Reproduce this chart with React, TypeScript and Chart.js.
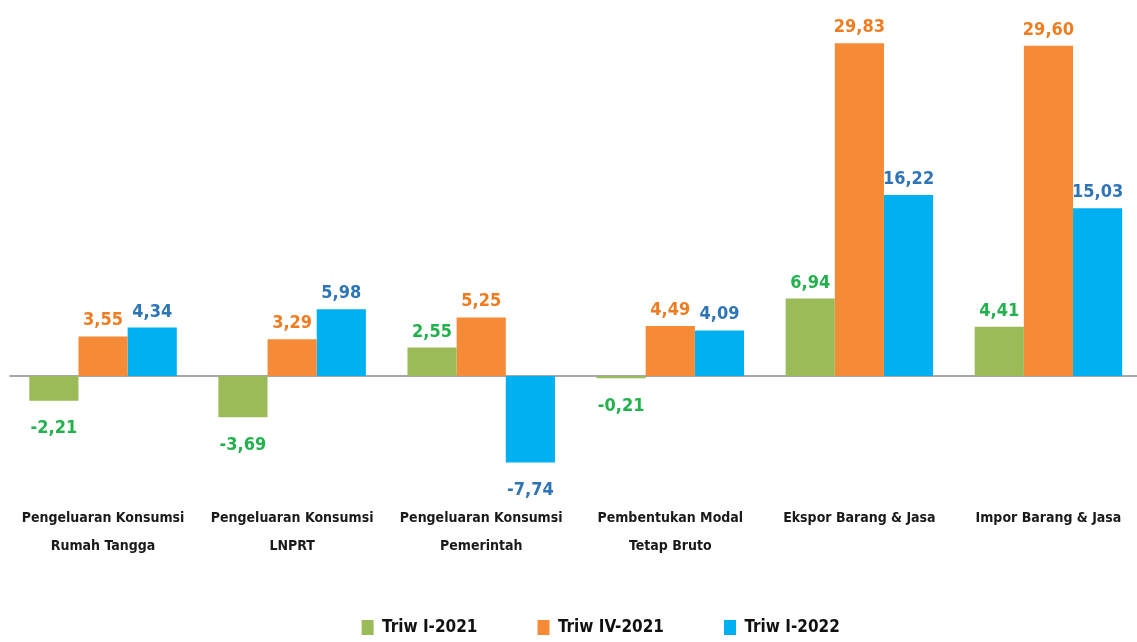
import React, { useEffect, useRef } from "react";
import { Chart, registerables } from "chart.js";

Chart.register(...registerables);

const categories: string[][] = [
  ["Pengeluaran Konsumsi", "Rumah Tangga"],
  ["Pengeluaran Konsumsi", "LNPRT"],
  ["Pengeluaran Konsumsi", "Pemerintah"],
  ["Pembentukan Modal", "Tetap Bruto"],
  ["Ekspor Barang & Jasa"],
  ["Impor Barang & Jasa"],
];

const seriesNames = ["Triw I-2021", "Triw IV-2021", "Triw I-2022"];
const triwI2021 = [-2.21, -3.69, 2.55, -0.21, 6.94, 4.41];
const triwIV2021 = [3.55, 3.29, 5.25, 4.49, 29.83, 29.6];
const triwI2022 = [4.34, 5.98, -7.74, 4.09, 16.22, 15.03];

const barColors = ["#9bbb59", "#f58b36", "#00b0f0"];
const labelColors = ["#22b14c", "#f07c22", "#2e75b6"];
const FONT = "'DejaVu Sans Condensed', 'DejaVu Sans', sans-serif";

const fmt = (v: number) => v.toFixed(2).replace(".", ",");

const zeroLine = {
  id: "zeroLine",
  beforeDatasetsDraw(chart: any) {
    const { ctx, chartArea } = chart;
    const y0 = chart.scales.y.getPixelForValue(0);
    ctx.save();
    ctx.strokeStyle = "#a6a6a6";
    ctx.lineWidth = 2;
    ctx.beginPath();
    ctx.moveTo(chartArea.left + 1, y0);
    ctx.lineTo(chartArea.right, y0);
    ctx.stroke();
    ctx.restore();
  },
};

const valueLabels = {
  id: "valueLabels",
  afterDatasetsDraw(chart: any) {
    const { ctx } = chart;
    ctx.save();
    ctx.font = `bold 18px ${FONT}`;
    ctx.textAlign = "center";
    chart.data.datasets.forEach((ds: any, di: number) => {
      const meta = chart.getDatasetMeta(di);
      ctx.fillStyle = labelColors[di];
      meta.data.forEach((bar: any, i: number) => {
        const v = ds.data[i] as number;
        if (v >= 0) {
          ctx.textBaseline = "alphabetic";
          ctx.fillText(fmt(v), bar.x, bar.y - 11);
        } else {
          ctx.textBaseline = "top";
          ctx.fillText(fmt(v), bar.x, bar.y + 19);
        }
      });
    });
    ctx.restore();
  },
};

// place the legend row like the reference (centred a bit right, near the bottom)
const legendPlace = {
  id: "legendPlace",
  afterLayout(chart: any) {
    const lg = chart.legend;
    if (!lg) return;
    const pad = lg.options.labels.padding;
    const h = lg.height;
    lg.left += 25;
    lg.right += 25;
    lg.top = 628 - pad - 9;
    lg.bottom = lg.top + h;
  },
};

export default function App() {
  const ref = useRef<HTMLCanvasElement>(null);
  useEffect(() => {
    document.body.style.margin = "0";
    const series = [triwI2021, triwIV2021, triwI2022];
    const chart = new Chart(ref.current!, {
      type: "bar",
      data: {
        labels: categories,
        datasets: series.map((d, i) => ({
          label: seriesNames[i],
          data: d,
          backgroundColor: barColors[i],
          borderWidth: 0,
          barPercentage: 1,
          categoryPercentage: 0.78,
        })),
      },
      options: {
        animation: false,
        responsive: false,
        layout: { padding: { left: 8.5, right: 0, top: 10, bottom: -17.3 } },
        scales: {
          x: {
            grid: { display: false, drawTicks: false },
            border: { display: false },
            ticks: {
              color: "#1a1a1a",
              font: { family: FONT, size: 14, weight: "bold", lineHeight: 2.0 },
              padding: 12,
              maxRotation: 0,
              autoSkip: false,
            },
          },
          y: { display: false, min: -10.42, max: 32.8 },
        },
        plugins: {
          legend: {
            position: "bottom",
            labels: {
              boxWidth: 12,
              boxHeight: 15,
              padding: 60,
              color: "#111111",
              font: { family: FONT, size: 17, weight: "bold" },
            },
          },
          tooltip: { enabled: false },
        },
      } as any,
      plugins: [zeroLine, valueLabels, legendPlace],
    });
    return () => chart.destroy();
  }, []);
  return (
    <div
      style={{
        position: "absolute",
        left: 0,
        top: 0,
        width: 1137,
        height: 642,
        overflow: "hidden",
        background: "#ffffff",
      }}
    >
      <canvas ref={ref} width={1143} height={642} style={{ display: "block" }} />
    </div>
  );
}
